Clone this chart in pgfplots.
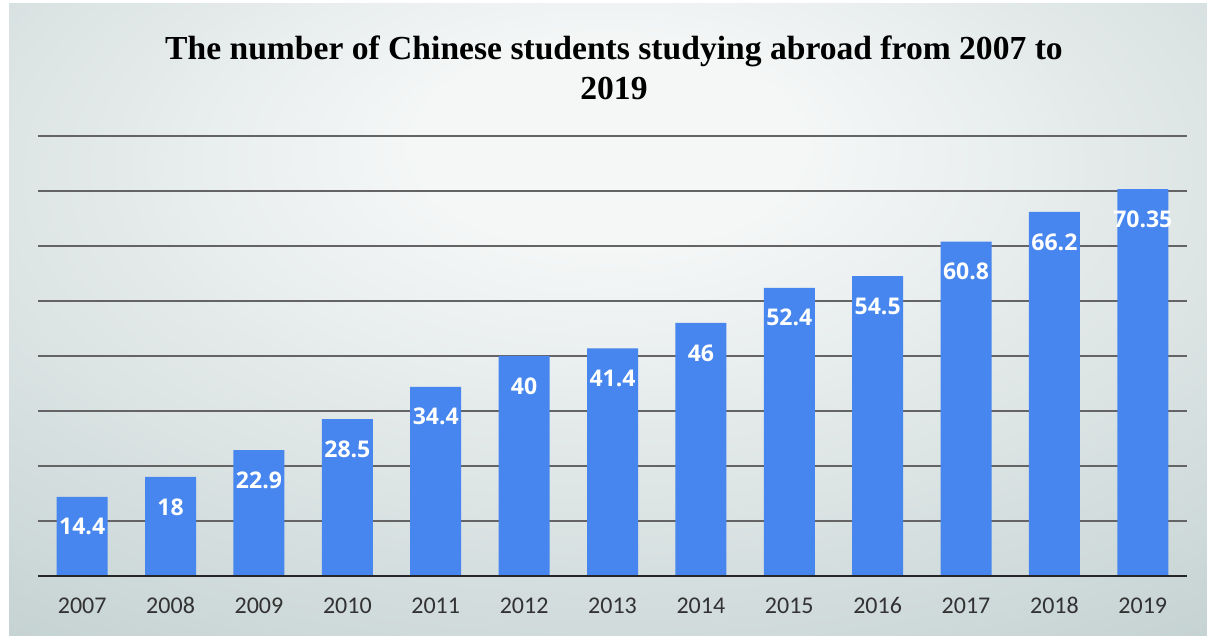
\documentclass[border=0pt]{standalone}
\usepackage{fontspec}
\setmainfont{Liberation Serif}
\newfontfamily\tickfont{Carlito}
\newfontfamily\labelfont{Open Sans}
\usepackage{pgfplots}
\pgfplotsset{compat=1.18}

\definecolor{barblue}{RGB}{70,134,238}
\definecolor{bgin}{RGB}{245,247,247}
\definecolor{bgout}{RGB}{184,200,200}
\definecolor{gridgray}{RGB}{100,100,100}
\definecolor{ticktext}{RGB}{50,50,50}
\pgfdeclareradialshading{chartbg}{\pgfpoint{0bp}{15bp}}{%
  color(0bp)=(bgin); color(8bp)=(bgin); color(52bp)=(bgout); color(100bp)=(bgout)}

\begin{document}
\begin{tikzpicture}
\fill[white] (0pt,0pt) rectangle (603.5pt,318pt);
\shade[shading=chartbg] (4.5pt,0pt) rectangle (603.5pt,316pt);

\node[font=\bfseries\fontsize{16.8}{20}\selectfont, align=center] at (307pt,284pt)
  {The number of Chinese students studying abroad from 2007 to\\2019};

\begin{axis}[
  at={(19pt,30pt)}, anchor=south west,
  scale only axis, width=574.5pt, height=220pt,
  xmin=-0.5, xmax=12.5, ymin=0, ymax=80,
  ybar, bar width=25.5pt,
  axis line style={draw=none},
  major tick length=0pt,
  /pgf/number format/assume math mode=true,
  xtick={0,...,12},
  xticklabels={2007,2008,2009,2010,2011,2012,2013,2014,2015,2016,2017,2018,2019},
  xticklabel style={font=\tickfont\fontsize{12}{12}\selectfont, text=ticktext,
                    anchor=base, yshift=-18.8pt},
  ytick={10,20,...,80}, yticklabels={},
  ymajorgrids, grid style={gridgray, line width=0.6pt},
  nodes near coords,
  nodes near coords style={white, font=\labelfont\bfseries\fontsize{11.5}{12}\selectfont,
                           anchor=center, yshift=-15pt},
  clip=false,
]
\addplot[fill=barblue, draw=none] coordinates {
  (0,14.4) (1,18) (2,22.9) (3,28.5) (4,34.4) (5,40) (6,41.4)
  (7,46) (8,52.4) (9,54.5) (10,60.8) (11,66.2) (12,70.35)
};
\draw[line width=1.4pt, black!85] (axis cs:-0.5,0) -- (axis cs:12.5,0);
\end{axis}
\end{tikzpicture}
\end{document}
